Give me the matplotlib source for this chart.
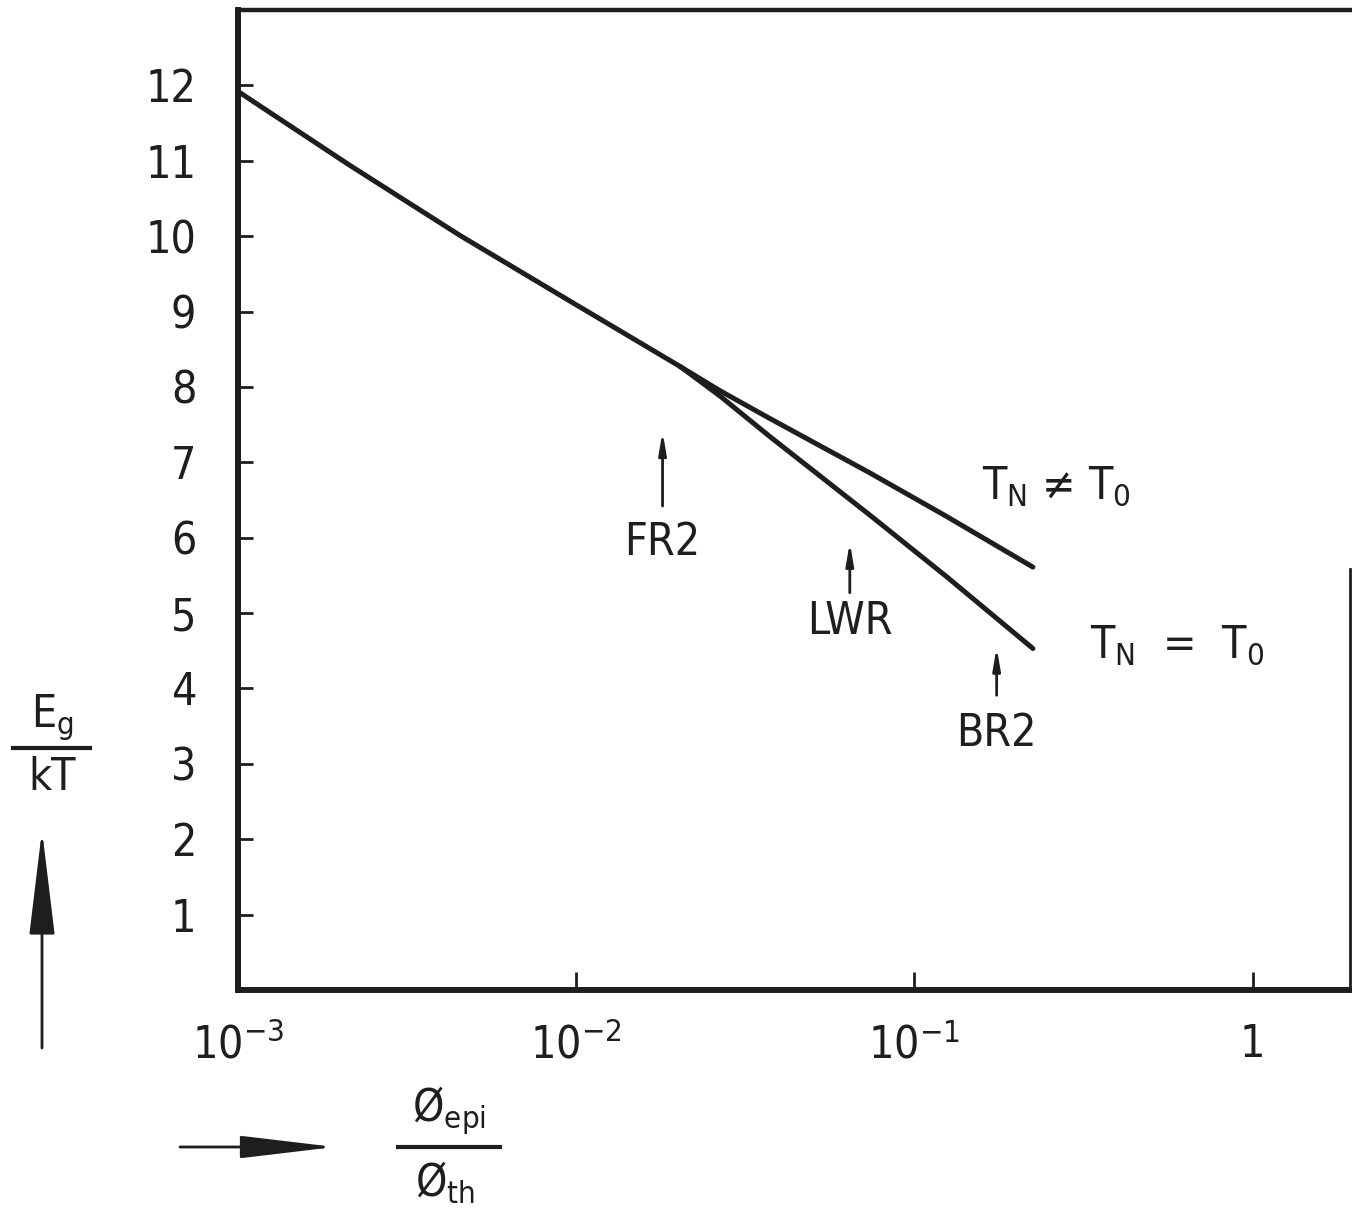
import matplotlib
matplotlib.use('Agg')
import matplotlib.pyplot as plt
from matplotlib.lines import Line2D
from matplotlib.patches import FancyArrowPatch

# curve (x = phi_epi/phi_th, y = Eg/kT)
x_shared = [0.001, 0.00214, 0.00453, 0.00957, 0.0203]
y_shared = [11.92, 10.94, 10.01, 9.14, 8.27]
x_branch = [0.0203, 0.0266, 0.0374, 0.0738, 0.1247, 0.224]
y_upper = [8.27, 7.95, 7.58, 6.86, 6.28, 5.61]
y_lower = [8.27, 7.88, 7.34, 6.30, 5.48, 4.53]

x_ticks = [1e-3, 1e-2, 1e-1, 1]
x_ticklabels = ['10$^{-3}$', '10$^{-2}$', '10$^{-1}$', '1']
y_ticks = list(range(1, 13))

# reactor markers: name, x, arrow head y, arrow tail y, label y
markers = [('FR2', 0.0180, 7.41, 6.42, 5.93),
           ('LWR', 0.0644, 5.94, 5.27, 4.89),
           ('BR2', 0.175, 4.55, 3.91, 3.40)]

plt.rcParams['font.family'] = ['DejaVu Sans']
plt.rcParams['font.stretch'] = 'condensed'
plt.rcParams['mathtext.default'] = 'regular'

W, H = 1352, 1211
ink = '#1e1e1e'
fs = 32

fig = plt.figure(figsize=(W / 100, H / 100), dpi=100)
ax = fig.add_axes([238 / W, 1 - 990 / H, (1350 - 238) / W, (990 - 10) / H])

ax.plot(x_shared, y_shared, color=ink, lw=3.6, solid_capstyle='round', solid_joinstyle='round')
ax.plot(x_branch, y_upper, color=ink, lw=3.6, solid_capstyle='round', solid_joinstyle='round')
ax.plot(x_branch, y_lower, color=ink, lw=3.6, solid_capstyle='round', solid_joinstyle='round')

ax.set_xscale('log')
ax.set_xlim(1e-3, 1.94)
ax.set_ylim(0, 13)
ax.set_xticks(x_ticks)
ax.set_xticklabels(x_ticklabels)
ax.set_yticks(y_ticks)
ax.minorticks_off()
ax.tick_params(axis='both', direction='in', colors=ink, labelsize=fs, width=2)
ax.tick_params(axis='y', length=11, pad=30)
ax.tick_params(axis='x', length=13, pad=24)

for side in ['left', 'bottom', 'top']:
    ax.spines[side].set_linewidth(4.3)
    ax.spines[side].set_color(ink)
ax.spines['top'].set_linewidth(3.2)
ax.spines['right'].set_visible(False)
# right frame line only shows on the lower part
ax.plot([1, 1], [0, 0.43], transform=ax.transAxes, color=ink, lw=2, clip_on=False)

for name, x, head, tail, ly in markers:
    ax.annotate('', xy=(x, head), xytext=(x, tail),
                arrowprops=dict(arrowstyle='-|>,head_length=1.3,head_width=0.22',
                                color=ink, lw=2, shrinkA=0, shrinkB=0))
    ax.text(x, ly, name, ha='center', va='center', fontsize=fs, color=ink)

ax.text(0.158, 6.68, 'T$_N$ \u2260 T$_0$', ha='left', va='center', fontsize=fs, color=ink)
ax.text(0.330, 4.57, 'T$_N$  =  T$_0$', ha='left', va='center', fontsize=fs, color=ink)

# y axis label: Eg / kT with an upward arrow
fig.text(52 / W, 1 - 717 / H, 'E$_g$', ha='center', va='center', fontsize=fs, color=ink)
fig.add_artist(Line2D([13 / W, 90 / W], [1 - 748 / H, 1 - 748 / H], color=ink, lw=3))
fig.text(52 / W, 1 - 778 / H, 'kT', ha='center', va='center', fontsize=fs, color=ink)
fig.add_artist(FancyArrowPatch(
    (42 / W, 1 - 1048 / H), (42 / W, 1 - 830 / H), transform=fig.transFigure,
    arrowstyle='-|>,head_length=66,head_width=8', mutation_scale=1,
    color=ink, lw=2, shrinkA=0, shrinkB=0))

# x axis label: phi_epi / phi_th with a right arrow
fig.add_artist(FancyArrowPatch(
    (180 / W, 1 - 1147 / H), (335 / W, 1 - 1147 / H), transform=fig.transFigure,
    arrowstyle='-|>,head_length=59,head_width=7', mutation_scale=1,
    color=ink, lw=2, shrinkA=0, shrinkB=0))
fig.text(449 / W, 1 - 1110 / H, '\u00d8$_{epi}$', ha='center', va='center', fontsize=fs, color=ink)
fig.add_artist(Line2D([398 / W, 500 / W], [1 - 1147 / H, 1 - 1147 / H], color=ink, lw=3))
fig.text(445 / W, 1 - 1183 / H, '\u00d8$_{th}$', ha='center', va='center', fontsize=fs, color=ink)

fig.savefig('out.png', dpi=100)
